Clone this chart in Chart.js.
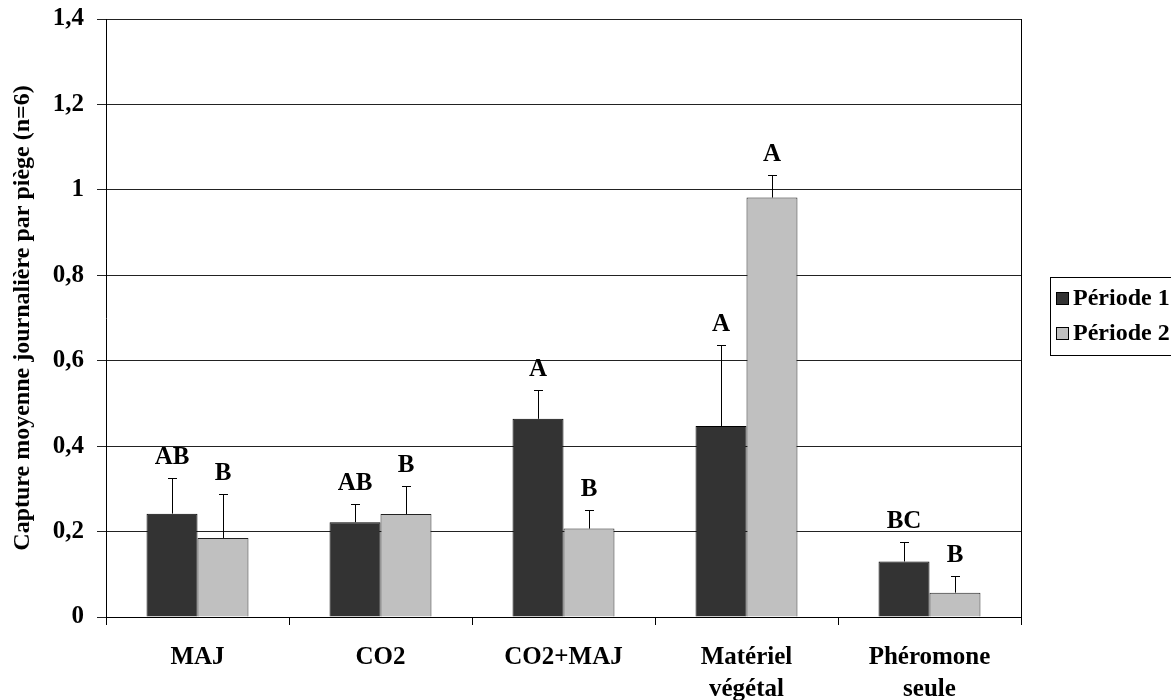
<!DOCTYPE html>
<html>
<head>
<meta charset="utf-8">
<script src="https://cdn.jsdelivr.net/npm/chart.js@4.4.0/dist/chart.umd.min.js"></script>
<style>
  html, body { margin: 0; padding: 0; background: #fff; }
  #wrap { width: 1171px; height: 700px; position: relative; }
</style>
</head>
<body>
<div id="wrap"><canvas id="chart"></canvas></div>
<script>
// data
const categories = [["MAJ"], ["CO2"], ["CO2+MAJ"], ["Matériel", "végétal"], ["Phéromone", "seule"]];
const periode1 = [0.242, 0.222, 0.464, 0.447, 0.130];
const periode2 = [0.185, 0.241, 0.207, 0.982, 0.057];
const erreur1 = [0.083, 0.042, 0.068, 0.190, 0.045];
const erreur2 = [0.102, 0.066, 0.043, 0.053, 0.038];
const lettres1 = ["AB", "AB", "A", "A", "BC"];
const lettres2 = ["B", "B", "B", "A", "B"];
const yTickLabels = ["0", "0,2", "0,4", "0,6", "0,8", "1", "1,2", "1,4"];

const SERIF = "'Liberation Serif', 'Times New Roman', serif";
const errors = [erreur1, erreur2];
const letters = [lettres1, lettres2];

// error bars (upper side only) + significance letters
const annotations = {
  id: 'annotations',
  afterDatasetsDraw(chart) {
    const ctx = chart.ctx;
    const y = chart.scales.y;
    ctx.save();
    chart.data.datasets.forEach((ds, d) => {
      chart.getDatasetMeta(d).data.forEach((bar, i) => {
        const top = y.getPixelForValue(ds.data[i] + errors[d][i]);
        const x = Math.round(bar.x) + 0.5;
        ctx.strokeStyle = '#000';
        ctx.lineWidth = 1;
        ctx.beginPath();
        ctx.moveTo(x, bar.y);
        ctx.lineTo(x, Math.round(top) + 0.5);
        ctx.moveTo(x - 4.5, Math.round(top) + 0.5);
        ctx.lineTo(x + 4.5, Math.round(top) + 0.5);
        ctx.stroke();
        ctx.fillStyle = '#000';
        ctx.font = "bold 25px " + SERIF;
        ctx.textAlign = 'center';
        ctx.textBaseline = 'alphabetic';
        ctx.fillText(letters[d][i], bar.x, top - 14);
      });
    });
    // right edge of the plot area
    const a = chart.chartArea;
    ctx.beginPath();
    ctx.moveTo(Math.round(a.right) + 0.5, a.top);
    ctx.lineTo(Math.round(a.right) + 0.5, a.bottom + 8);
    ctx.stroke();
    ctx.restore();
  }
};

// legend box at the right, partly cut by the picture edge
const sideLegend = {
  id: 'sideLegend',
  afterDraw(chart) {
    const ctx = chart.ctx;
    const left = 1050, top = 277, rowH = 35;
    ctx.save();
    ctx.strokeStyle = '#000';
    ctx.lineWidth = 1;
    ctx.strokeRect(left + 0.5, top + 0.5, 200, 78);
    chart.data.datasets.forEach((ds, d) => {
      const cy = top + 21 + d * rowH;
      ctx.fillStyle = ds.backgroundColor;
      ctx.fillRect(left + 6, cy - 6, 13, 13);
      ctx.strokeRect(left + 6.5, cy - 5.5, 12, 12);
      ctx.fillStyle = '#000';
      ctx.font = "bold 24px " + SERIF;
      ctx.textAlign = 'left';
      ctx.textBaseline = 'middle';
      ctx.fillText(ds.label, left + 23, cy + 1);
    });
    ctx.restore();
  }
};

new Chart(document.getElementById('chart'), {
  type: 'bar',
  data: {
    labels: categories,
    datasets: [
      { label: 'Période 1', data: periode1, backgroundColor: '#333333', borderColor: '#000', borderWidth: 1 },
      { label: 'Période 2', data: periode2, backgroundColor: '#c0c0c0', borderColor: '#222', borderWidth: 1 }
    ]
  },
  options: {
    responsive: true,
    maintainAspectRatio: false,
    animation: false,
    events: [],
    layout: { padding: { top: 19, right: 150, left: 0, bottom: 0 } },
    datasets: { bar: { categoryPercentage: 0.557, barPercentage: 1.0 } },
    plugins: { legend: { display: false }, tooltip: { enabled: false } },
    scales: {
      x: {
        grid: { drawOnChartArea: false, drawTicks: true, tickLength: 8, color: '#000', offset: true },
        border: { display: true, color: '#000', width: 1 },
        ticks: { color: '#000', padding: 16, font: { family: SERIF, size: 25, weight: 'bold', lineHeight: 1.3 } },
        afterFit(scale) { scale.height = 83; scale.paddingLeft = 0; scale.paddingRight = 0; }
      },
      y: {
        min: 0,
        max: 1.4,
        ticks: {
          stepSize: 0.2,
          color: '#000',
          padding: 13,
          font: { family: SERIF, size: 25, weight: 'bold' },
          callback: (v, i) => yTickLabels[i]
        },
        grid: { color: '#222', lineWidth: 1, tickLength: 9 },
        border: { display: true, color: '#000', width: 1 },
        title: {
          display: true,
          text: 'Capture moyenne journalière par piège (n=6)',
          color: '#000',
          font: { family: SERIF, size: 24, weight: 'bold' },
          padding: { top: 8, bottom: 0 }
        },
        afterFit(scale) { scale.width = 106; scale.paddingTop = 0; scale.paddingBottom = 0; }
      }
    }
  },
  plugins: [annotations, sideLegend]
});
</script>
</body>
</html>
